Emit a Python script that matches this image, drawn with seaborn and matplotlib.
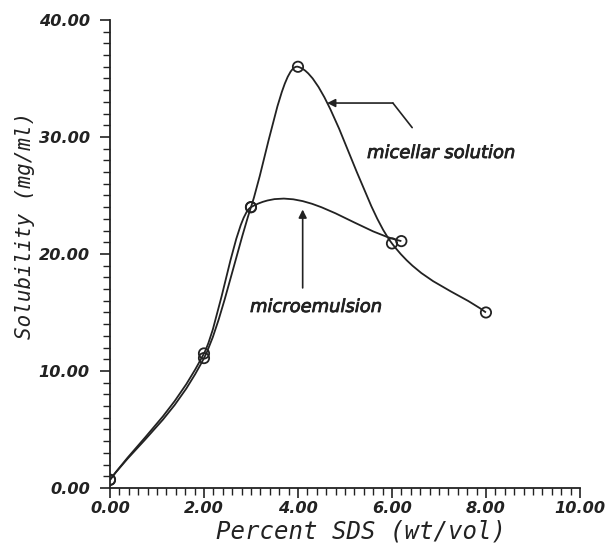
import numpy as np
import pandas as pd
import matplotlib
matplotlib.use("Agg")
import matplotlib.pyplot as plt
from matplotlib.path import Path
from matplotlib.patches import PathPatch
from matplotlib.ticker import MultipleLocator, FormatStrFormatter
import matplotlib.patheffects as pe
import seaborn as sns

# --- data ---
micellar_x = [0.0, 2.0, 3.0, 4.0, 6.0, 8.0]
micellar_y = [0.7, 11.1, 24.0, 36.0, 20.9, 15.0]
micro_x = [0.0, 2.0, 3.0, 6.2]
micro_y = [0.7, 11.5, 24.0, 21.1]

x_ticks = [0, 2, 4, 6, 8, 10]
y_ticks = [0, 10, 20, 30, 40]

sns.set_style("ticks")

fig = plt.figure(figsize=(6.06, 5.47), dpi=100)
ax = fig.add_axes([0.1815, 0.1079, 0.7755, 0.8556])


def smooth_path(xs, ys):
    """Cubic Hermite (Catmull-Rom slopes) drawn as Bezier path through the points."""
    xs = np.asarray(xs, float)
    ys = np.asarray(ys, float)
    n = len(xs)
    m = np.zeros(n)
    for i in range(n):
        if i == 0:
            m[i] = (ys[1] - ys[0]) / (xs[1] - xs[0])
        elif i == n - 1:
            m[i] = (ys[-1] - ys[-2]) / (xs[-1] - xs[-2])
        else:
            m[i] = (ys[i + 1] - ys[i - 1]) / (xs[i + 1] - xs[i - 1])
    verts = [(xs[0], ys[0])]
    codes = [Path.MOVETO]
    for i in range(n - 1):
        dx = xs[i + 1] - xs[i]
        verts += [(xs[i] + dx / 3, ys[i] + m[i] * dx / 3),
                  (xs[i + 1] - dx / 3, ys[i + 1] - m[i + 1] * dx / 3),
                  (xs[i + 1], ys[i + 1])]
        codes += [Path.CURVE4] * 3
    return Path(verts, codes)


for xs, ys in [(micellar_x, micellar_y), (micro_x, micro_y)]:
    ax.add_patch(PathPatch(smooth_path(xs, ys), facecolor="none",
                           edgecolor="#222222", lw=1.3, zorder=2))

pts = pd.DataFrame({
    "x": micellar_x + micro_x,
    "y": micellar_y + micro_y,
})
sns.scatterplot(data=pts, x="x", y="y", ax=ax, marker="o", s=55,
                facecolor="none", edgecolor="#222222", linewidth=1.3,
                zorder=3, legend=False)

ax.set_xlim(0, 10)
ax.set_ylim(0, 40)
ax.set_xticks(x_ticks)
ax.set_yticks(y_ticks)
ax.xaxis.set_minor_locator(MultipleLocator(0.2))
ax.yaxis.set_minor_locator(MultipleLocator(1))
ax.xaxis.set_major_formatter(FormatStrFormatter("%.2f"))
ax.yaxis.set_major_formatter(FormatStrFormatter("%.2f"))
ax.tick_params(which="major", direction="out", length=7.5, width=1.2,
               color="#222222", labelsize=11.6)
ax.tick_params(which="minor", direction="out", length=5, width=1.0,
               color="#222222")
ax.tick_params(axis="x", which="major", pad=2)
ax.tick_params(axis="y", which="major", pad=7)
for lab in ax.get_xticklabels() + ax.get_yticklabels():
    lab.set_fontweight("bold")
    lab.set_fontstyle("italic")
    lab.set_color("#222222")

sns.despine(ax=ax)
for sp in ["left", "bottom"]:
    ax.spines[sp].set_linewidth(1.3)
    ax.spines[sp].set_color("#222222")

ax.set_xlabel("Percent SDS (wt/vol)", family="DejaVu Sans Mono",
              style="italic", size=17.3, color="#222222")
ax.set_ylabel("Solubility (mg/ml)", family="DejaVu Sans Mono",
              style="italic", size=15, color="#222222")
ax.xaxis.set_label_coords(0.534, -0.092)
ax.xaxis.label.set_va("center")
ax.yaxis.set_label_coords(-0.181, 0.562)
ax.yaxis.label.set_va("center")

# annotations
ann_font = dict(family="DejaVu Sans", style="italic", size=12.9,
                color="#222222",
                path_effects=[pe.withStroke(linewidth=0.6, foreground="#222222")])
ax.annotate("", xy=(4.62, 32.9), xytext=(6.02, 32.9),
            arrowprops=dict(arrowstyle="-|>", color="#222222", lw=1.2,
                            mutation_scale=12, shrinkA=0, shrinkB=0))
ax.plot([6.02, 6.43], [32.9, 30.8], color="#222222", lw=1.2)
ax.text(5.47, 28.2, "micellar solution", ha="left", va="baseline", **ann_font)

ax.annotate("", xy=(4.1, 23.8), xytext=(4.1, 17.1),
            arrowprops=dict(arrowstyle="-|>", color="#222222", lw=1.2,
                            mutation_scale=12, shrinkA=0, shrinkB=0))
ax.text(2.98, 15.04, "microemulsion", ha="left", va="baseline", **ann_font)

fig.savefig("out.png", dpi=100)
